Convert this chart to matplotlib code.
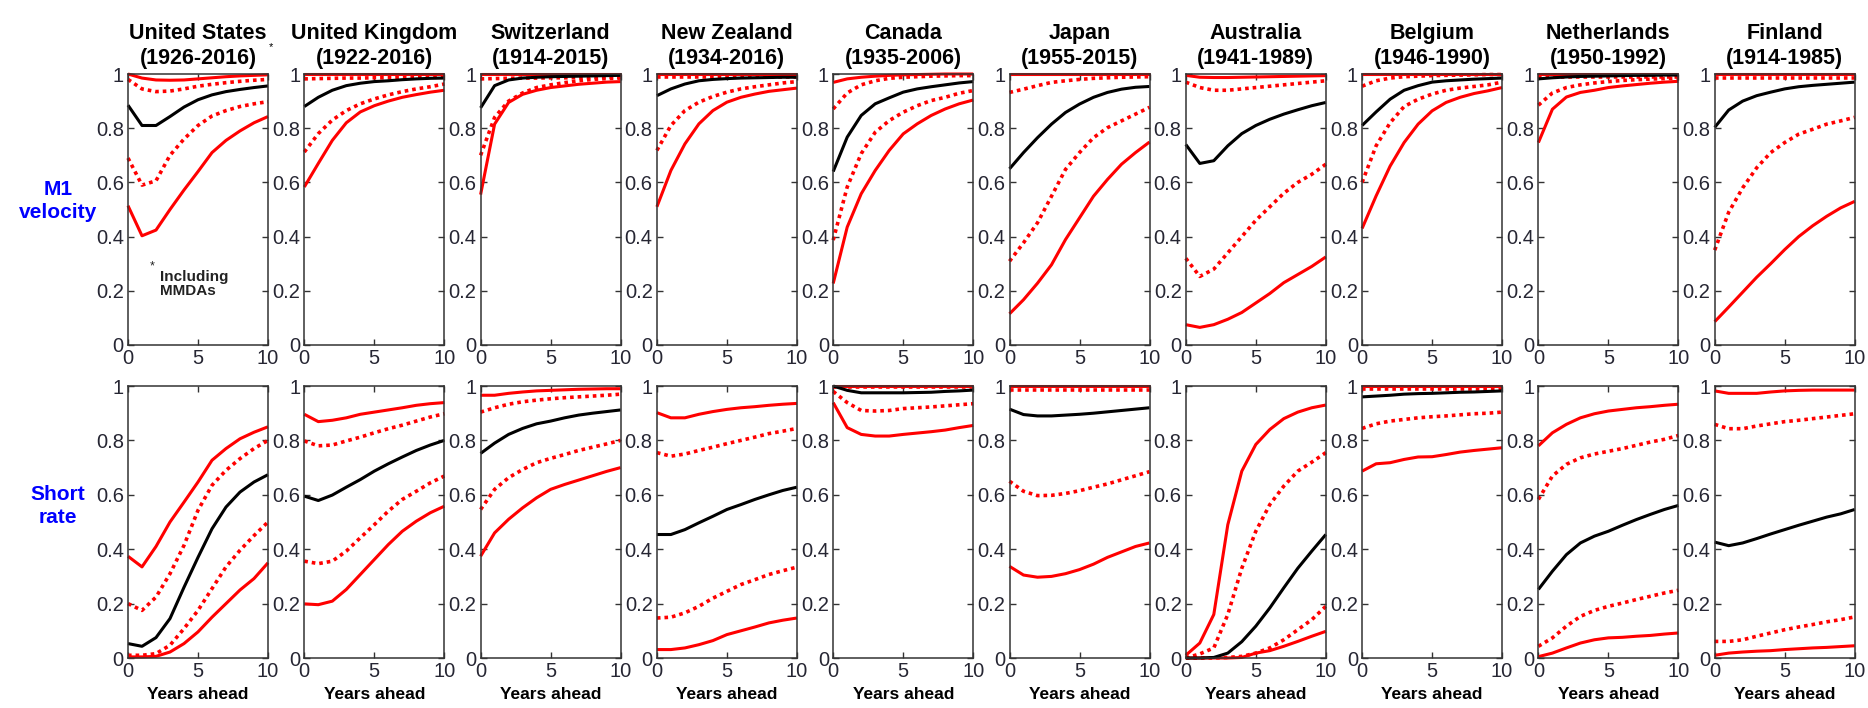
import matplotlib
matplotlib.use("Agg")
import matplotlib.pyplot as plt

plt.rcParams['font.family'] = ['Liberation Sans', 'DejaVu Sans']

years = list(range(11))
countries = ["United States", "United Kingdom", "Switzerland", "New Zealand", "Canada",
             "Japan", "Australia", "Belgium", "Netherlands", "Finland"]
periods = ["1926-2016", "1922-2016", "1914-2015", "1934-2016", "1935-2006",
           "1955-2015", "1941-1989", "1946-1990", "1950-1992", "1914-1985"]

# each list: [upper 95%, upper 68%, median, lower 68%, lower 95%]
m1_us = [[1.0, 0.985, 0.978, 0.977, 0.978, 0.982, 0.986, 0.99, 0.993, 0.995, 0.997],
         [0.98, 0.945, 0.935, 0.937, 0.945, 0.955, 0.962, 0.968, 0.973, 0.977, 0.98],
         [0.885, 0.81, 0.81, 0.843, 0.878, 0.905, 0.923, 0.935, 0.943, 0.95, 0.956],
         [0.69, 0.59, 0.606, 0.70, 0.76, 0.81, 0.845, 0.865, 0.88, 0.89, 0.898],
         [0.514, 0.403, 0.424, 0.50, 0.572, 0.64, 0.71, 0.755, 0.79, 0.82, 0.843]]
m1_uk = [[1.0] * 11,
         [0.982, 0.983, 0.984, 0.985, 0.985, 0.986, 0.986, 0.987, 0.987, 0.988, 0.988],
         [0.88, 0.914, 0.94, 0.957, 0.966, 0.972, 0.975, 0.979, 0.982, 0.984, 0.985],
         [0.712, 0.78, 0.83, 0.865, 0.89, 0.908, 0.923, 0.935, 0.945, 0.953, 0.963],
         [0.583, 0.67, 0.755, 0.82, 0.86, 0.883, 0.90, 0.914, 0.924, 0.933, 0.94]]
m1_ch = [[1.0] * 11,
         [0.982, 0.983, 0.984, 0.985, 0.985, 0.986, 0.986, 0.987, 0.987, 0.988, 0.988],
         [0.875, 0.957, 0.978, 0.985, 0.988, 0.99, 0.991, 0.992, 0.993, 0.994, 0.995],
         [0.70, 0.84, 0.90, 0.93, 0.95, 0.96, 0.968, 0.975, 0.98, 0.983, 0.985],
         [0.555, 0.815, 0.895, 0.925, 0.94, 0.95, 0.956, 0.962, 0.966, 0.97, 0.972]]
m1_nz = [[1.0] * 11,
         [0.99] * 11,
         [0.92, 0.945, 0.963, 0.975, 0.98, 0.983, 0.985, 0.986, 0.987, 0.988, 0.988],
         [0.718, 0.81, 0.865, 0.896, 0.917, 0.933, 0.945, 0.953, 0.96, 0.967, 0.972],
         [0.51, 0.644, 0.742, 0.816, 0.865, 0.896, 0.914, 0.926, 0.936, 0.942, 0.948]]
m1_ca = [[0.969, 0.982, 0.988, 0.992, 0.995, 0.997, 0.998, 0.999, 1.0, 1.0, 1.0],
         [0.871, 0.93, 0.96, 0.975, 0.984, 0.988, 0.99, 0.992, 0.993, 0.994, 0.994],
         [0.64, 0.767, 0.847, 0.89, 0.912, 0.933, 0.945, 0.953, 0.96, 0.967, 0.972],
         [0.387, 0.583, 0.706, 0.785, 0.828, 0.859, 0.883, 0.902, 0.914, 0.929, 0.939],
         [0.227, 0.435, 0.558, 0.644, 0.718, 0.779, 0.816, 0.847, 0.871, 0.89, 0.904]]
m1_jp = [[1.0] * 11,
         [0.932, 0.944, 0.957, 0.969, 0.975, 0.98, 0.984, 0.986, 0.988, 0.989, 0.99],
         [0.65, 0.71, 0.765, 0.815, 0.858, 0.889, 0.914, 0.932, 0.944, 0.951, 0.954],
         [0.309, 0.377, 0.451, 0.549, 0.648, 0.71, 0.765, 0.802, 0.827, 0.852, 0.877],
         [0.115, 0.167, 0.228, 0.296, 0.389, 0.469, 0.549, 0.611, 0.667, 0.71, 0.749]]
m1_au = [[0.995, 0.988, 0.987, 0.987, 0.988, 0.989, 0.99, 0.991, 0.992, 0.993, 0.994],
         [0.97, 0.95, 0.94, 0.94, 0.945, 0.95, 0.955, 0.96, 0.965, 0.97, 0.975],
         [0.74, 0.67, 0.68, 0.735, 0.78, 0.81, 0.833, 0.852, 0.868, 0.883, 0.895],
         [0.32, 0.253, 0.28, 0.34, 0.40, 0.46, 0.51, 0.56, 0.60, 0.63, 0.667],
         [0.075, 0.065, 0.075, 0.095, 0.12, 0.155, 0.19, 0.23, 0.26, 0.29, 0.325]]
m1_be = [[1.0] * 11,
         [0.955, 0.975, 0.985, 0.99, 0.992, 0.994, 0.995, 0.996, 0.997, 0.998, 0.998],
         [0.81, 0.86, 0.907, 0.94, 0.957, 0.97, 0.975, 0.978, 0.981, 0.983, 0.985],
         [0.60, 0.735, 0.82, 0.88, 0.907, 0.926, 0.94, 0.948, 0.954, 0.96, 0.97],
         [0.43, 0.55, 0.66, 0.747, 0.815, 0.864, 0.895, 0.914, 0.928, 0.938, 0.95]]
m1_nl = [[1.0] * 11,
         [0.99] * 11,
         [0.982, 0.986, 0.989, 0.991, 0.992, 0.993, 0.994, 0.995, 0.995, 0.996, 0.996],
         [0.885, 0.93, 0.95, 0.96, 0.967, 0.972, 0.976, 0.979, 0.981, 0.983, 0.985],
         [0.747, 0.87, 0.915, 0.932, 0.94, 0.95, 0.956, 0.961, 0.966, 0.97, 0.973]]
m1_fi = [[1.0] * 11,
         [0.985] * 11,
         [0.803, 0.867, 0.90, 0.92, 0.933, 0.945, 0.953, 0.958, 0.962, 0.966, 0.97],
         [0.35, 0.49, 0.58, 0.654, 0.71, 0.747, 0.778, 0.796, 0.815, 0.827, 0.84],
         [0.086, 0.14, 0.195, 0.25, 0.30, 0.352, 0.40, 0.44, 0.475, 0.506, 0.53]]

sr_us = [[0.374, 0.335, 0.41, 0.50, 0.573, 0.647, 0.727, 0.77, 0.806, 0.83, 0.85],
         [0.20, 0.175, 0.224, 0.31, 0.414, 0.543, 0.635, 0.69, 0.733, 0.77, 0.80],
         [0.053, 0.043, 0.075, 0.145, 0.26, 0.37, 0.475, 0.555, 0.61, 0.647, 0.674],
         [0.01, 0.01, 0.016, 0.047, 0.108, 0.175, 0.255, 0.335, 0.396, 0.45, 0.50],
         [0.004, 0.004, 0.006, 0.022, 0.053, 0.096, 0.15, 0.20, 0.25, 0.292, 0.35]]
sr_uk = [[0.896, 0.869, 0.874, 0.883, 0.896, 0.904, 0.912, 0.92, 0.929, 0.935, 0.939],
         [0.798, 0.78, 0.783, 0.798, 0.812, 0.828, 0.843, 0.856, 0.871, 0.886, 0.898],
         [0.595, 0.579, 0.599, 0.628, 0.656, 0.687, 0.714, 0.739, 0.763, 0.783, 0.80],
         [0.356, 0.347, 0.356, 0.393, 0.442, 0.49, 0.54, 0.583, 0.613, 0.644, 0.669],
         [0.199, 0.196, 0.209, 0.252, 0.307, 0.362, 0.417, 0.466, 0.503, 0.534, 0.558]]
sr_ch = [[0.966, 0.966, 0.973, 0.978, 0.982, 0.984, 0.986, 0.988, 0.989, 0.99, 0.99],
         [0.904, 0.92, 0.933, 0.942, 0.948, 0.953, 0.957, 0.96, 0.963, 0.966, 0.97],
         [0.752, 0.79, 0.822, 0.844, 0.861, 0.871, 0.883, 0.893, 0.90, 0.906, 0.912],
         [0.546, 0.62, 0.663, 0.693, 0.718, 0.734, 0.748, 0.763, 0.775, 0.787, 0.80],
         [0.374, 0.46, 0.51, 0.552, 0.589, 0.62, 0.638, 0.654, 0.67, 0.686, 0.70]]
sr_nz = [[0.902, 0.883, 0.883, 0.896, 0.906, 0.914, 0.92, 0.924, 0.929, 0.933, 0.936],
         [0.755, 0.742, 0.75, 0.763, 0.775, 0.788, 0.80, 0.812, 0.825, 0.834, 0.844],
         [0.454, 0.454, 0.472, 0.497, 0.521, 0.546, 0.564, 0.583, 0.60, 0.616, 0.628],
         [0.147, 0.15, 0.166, 0.19, 0.22, 0.245, 0.27, 0.288, 0.307, 0.321, 0.334],
         [0.031, 0.031, 0.037, 0.049, 0.064, 0.086, 0.10, 0.114, 0.129, 0.139, 0.147]]
sr_ca = [[1.0] * 11,
         [0.998] * 11,
         [1.0, 0.984, 0.975, 0.975, 0.975, 0.975, 0.976, 0.977, 0.98, 0.982, 0.985],
         [0.98, 0.939, 0.91, 0.908, 0.91, 0.917, 0.92, 0.923, 0.927, 0.931, 0.935],
         [0.939, 0.847, 0.822, 0.816, 0.816, 0.822, 0.827, 0.832, 0.838, 0.847, 0.855]]
sr_jp = [[1.0] * 11,
         [0.985] * 11,
         [0.915, 0.895, 0.89, 0.89, 0.893, 0.896, 0.90, 0.905, 0.91, 0.915, 0.92],
         [0.65, 0.613, 0.597, 0.598, 0.605, 0.615, 0.628, 0.64, 0.655, 0.67, 0.685],
         [0.337, 0.305, 0.297, 0.30, 0.31, 0.325, 0.345, 0.37, 0.39, 0.41, 0.423]]
sr_au = [[0.01, 0.055, 0.16, 0.49, 0.687, 0.785, 0.84, 0.88, 0.904, 0.92, 0.93],
         [0.0, 0.015, 0.037, 0.16, 0.33, 0.466, 0.564, 0.632, 0.687, 0.72, 0.755],
         [0.0, 0.0, 0.002, 0.018, 0.06, 0.117, 0.184, 0.258, 0.33, 0.393, 0.454],
         [0.0, 0.0, 0.0, 0.002, 0.006, 0.018, 0.037, 0.067, 0.104, 0.141, 0.19],
         [0.0, 0.0, 0.0, 0.0, 0.002, 0.018, 0.027, 0.043, 0.061, 0.08, 0.098]]
sr_be = [[1.0] * 11,
         [0.99] * 11,
         [0.96, 0.963, 0.966, 0.97, 0.972, 0.973, 0.975, 0.977, 0.978, 0.98, 0.982],
         [0.844, 0.861, 0.871, 0.877, 0.883, 0.887, 0.89, 0.894, 0.898, 0.90, 0.904],
         [0.687, 0.714, 0.718, 0.73, 0.739, 0.74, 0.748, 0.757, 0.763, 0.768, 0.773]]
sr_nl = [[0.78, 0.828, 0.859, 0.883, 0.898, 0.908, 0.914, 0.92, 0.924, 0.929, 0.933],
         [0.583, 0.669, 0.712, 0.736, 0.75, 0.76, 0.77, 0.782, 0.794, 0.804, 0.818],
         [0.252, 0.319, 0.38, 0.423, 0.448, 0.466, 0.488, 0.509, 0.528, 0.546, 0.561],
         [0.043, 0.074, 0.117, 0.153, 0.175, 0.19, 0.202, 0.215, 0.227, 0.239, 0.249],
         [0.005, 0.018, 0.037, 0.055, 0.067, 0.074, 0.076, 0.08, 0.083, 0.088, 0.092]]
sr_fi = [[0.982, 0.973, 0.973, 0.973, 0.978, 0.982, 0.984, 0.985, 0.985, 0.985, 0.985],
         [0.859, 0.843, 0.843, 0.853, 0.861, 0.869, 0.874, 0.88, 0.886, 0.892, 0.898],
         [0.426, 0.413, 0.423, 0.439, 0.456, 0.472, 0.488, 0.503, 0.518, 0.53, 0.546],
         [0.061, 0.061, 0.067, 0.08, 0.092, 0.104, 0.114, 0.123, 0.133, 0.141, 0.151],
         [0.01, 0.018, 0.022, 0.025, 0.027, 0.031, 0.034, 0.037, 0.039, 0.042, 0.045]]

m1_all = [m1_us, m1_uk, m1_ch, m1_nz, m1_ca, m1_jp, m1_au, m1_be, m1_nl, m1_fi]
sr_all = [sr_us, sr_uk, sr_ch, sr_nz, sr_ca, sr_jp, sr_au, sr_be, sr_nl, sr_fi]

# line styles for the 5 series, drawn red bands first, black median last
order = [4, 3, 1, 0, 2]
styles = {0: dict(color='#ff0000', ls='-', lw=2.2),
          1: dict(color='#ff0000', ls=(0, (1, 1.1)), lw=2.6),
          2: dict(color='black', ls='-', lw=2.2),
          3: dict(color='#ff0000', ls=(0, (1, 1.1)), lw=2.6),
          4: dict(color='#ff0000', ls='-', lw=2.2)}

W, H = 1868, 708
fig = plt.figure(figsize=(W / 100, H / 100), dpi=100)

tick_col = '#262633'
rows = [(m1_all, 74, 345), (sr_all, 386, 658)]
for r, (data_all, top_px, bot_px) in enumerate(rows):
    for i in range(10):
        left_px = 128 + 176.3 * i
        ax = fig.add_axes([left_px / W, 1 - bot_px / H, 140 / W, (bot_px - top_px) / H])
        series = data_all[i]
        for k in order:
            ax.plot(years, series[k], clip_on=False, solid_capstyle='butt', **styles[k])
        ax.set_xlim(0, 10)
        ax.set_ylim(0, 1)
        ax.set_xticks([0, 5, 10])
        ax.set_yticks([0, 0.2, 0.4, 0.6, 0.8, 1])
        ax.set_yticklabels(['0', '0.2', '0.4', '0.6', '0.8', '1'])
        ax.tick_params(direction='in', top=True, right=True, length=4, width=1,
                       labelsize=14.5, pad=3, labelcolor=tick_col, color='#333333')
        for sp in ax.spines.values():
            sp.set_linewidth(1.1)
            sp.set_color('#333333')
        if r == 0:
            ax.set_title(f"{countries[i]}\n({periods[i]})", fontsize=15.5, fontweight='bold',
                         pad=7, linespacing=1.25)
        else:
            ax.set_xlabel('Years ahead', fontsize=12.5, fontweight='bold', labelpad=4)
        if r == 0 and i == 0:
            # footnote marker at the end of the US period line
            ax.text(1.005, 1.10, '*', transform=ax.transAxes, fontsize=8, ha='left', va='center')
            ax.text(0.17, 0.29, '*', transform=ax.transAxes, fontsize=9, ha='center',
                    va='center', color='#222222')
            ax.text(0.23, 0.225, 'Including\nMMDAs', transform=ax.transAxes, fontsize=11,
                    fontweight='bold', ha='left', va='center', linespacing=1.0,
                    color='#222222')

fig.text(58 / W, 1 - 201 / H, 'M1\nvelocity', color='#0000ff', fontsize=15,
         fontweight='bold', ha='center', va='center', linespacing=1.3)
fig.text(58 / W, 1 - 506 / H, 'Short\nrate', color='#0000ff', fontsize=15,
         fontweight='bold', ha='center', va='center', linespacing=1.3)

fig.savefig('out.png', dpi=100)
